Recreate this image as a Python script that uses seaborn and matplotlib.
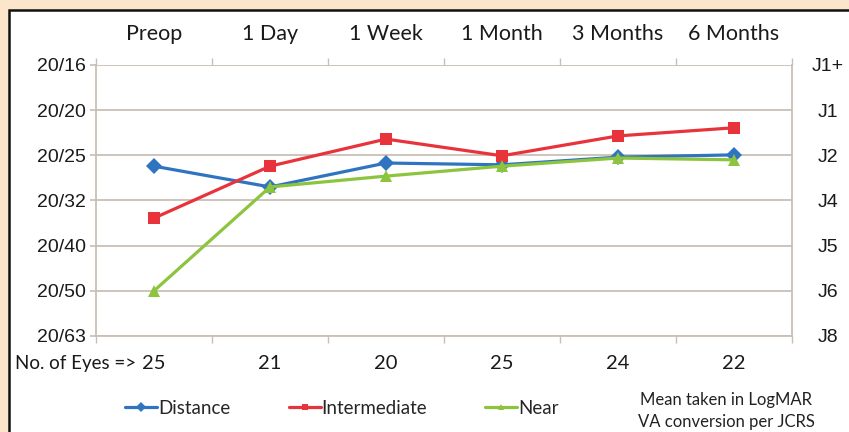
import numpy as np
import pandas as pd
import matplotlib
matplotlib.use("Agg")
import matplotlib.pyplot as plt
import seaborn as sns
from matplotlib.patches import Rectangle
from matplotlib.lines import Line2D
from matplotlib.ticker import FixedLocator

# ---------------- data ----------------
timepoints = ["Preop", "1 Day", "1 Week", "1 Month", "3 Months", "6 Months"]
eyes = [25, 21, 20, 25, 24, 22]
distance = [0.124, 0.170, 0.117, 0.121, 0.104, 0.099]
intermediate = [0.239, 0.124, 0.064, 0.101, 0.057, 0.039]
near = [0.400, 0.170, 0.146, 0.124, 0.106, 0.110]
series_names = ["Distance", "Intermediate", "Near"]
logmar_ticks = [-0.1, 0.0, 0.1, 0.2, 0.3, 0.4, 0.5]
snellen_labels = ["20/16", "20/20", "20/25", "20/32", "20/40", "20/50", "20/63"]
jaeger_labels = ["J1+", "J1", "J2", "J4", "J5", "J6", "J8"]
note_lines = ["Mean taken in LogMAR", "VA conversion per JCRS"]

colors = {"Distance": "#2F74C0", "Intermediate": "#E8333B", "Near": "#8CC43E"}
markers = {"Distance": "D", "Intermediate": "s", "Near": "^"}

rows = []
for name, vals in zip(series_names, [distance, intermediate, near]):
    for i, v in enumerate(vals):
        rows.append({"series": name, "pos": i, "logmar": v})
df = pd.DataFrame(rows)

# ---------------- figure ----------------
sns.set_theme(style="white")
plt.rcParams["font.family"] = ["Lato", "DejaVu Sans"]
W, H = 849, 432
fig = plt.figure(figsize=(W / 100, H / 100), dpi=100)
fig.patch.set_facecolor("#FBE5CB")

# white panel with black frame
fig.patches.append(Rectangle((9 / W, -0.1), 1.2, 1 - 10 / H + 0.1,
                             transform=fig.transFigure, facecolor="white",
                             edgecolor="#111111", linewidth=1.8, zorder=-5))

ax = fig.add_axes([96 / W, 1 - 336 / H, (792 - 96) / W, (336 - 65) / H])
ax.set_zorder(2)
ax.set_facecolor("white")

sns.lineplot(data=df, x="pos", y="logmar", hue="series", style="series",
             hue_order=series_names, style_order=series_names,
             palette=colors, markers=markers, dashes=False, ax=ax,
             legend=False, linewidth=2.3, markersize=8, markeredgewidth=0,
             zorder=3)

ax.set_xlim(-0.5, 5.5)
ax.set_ylim(0.5, -0.1)
ax.set_xlabel("")
ax.set_ylabel("")

grid_c = "#C9BFB5"
ax.set_yticks(logmar_ticks)
ax.set_yticklabels(snellen_labels, fontsize=14, family="Liberation Sans", color="#1A1A1A")
ax.yaxis.grid(True, color=grid_c, linewidth=1.3)
ax.xaxis.grid(False)
ax.tick_params(axis="y", length=4, color=grid_c, pad=3, left=True)

for s in ["left", "right", "bottom"]:
    ax.spines[s].set_visible(True)
    ax.spines[s].set_color(grid_c)
    ax.spines[s].set_linewidth(1.3)
ax.spines["top"].set_visible(False)

# bottom: eye counts + boundary ticks
ax.set_xticks(range(len(timepoints)))
ax.set_xticklabels([str(e) for e in eyes], fontsize=14.5, color="#1A1A1A")
ax.xaxis.set_minor_locator(FixedLocator(np.arange(-0.5, 6, 1.0)))
ax.tick_params(axis="x", which="major", length=0, pad=14, bottom=True)
ax.tick_params(axis="x", which="minor", length=5, color=grid_c, bottom=True, top=True)

# top: category labels
top = ax.secondary_xaxis("top")
top.set_xticks(range(len(timepoints)))
top.set_xticklabels(timepoints, fontsize=15.5, color="#1A1A1A")
top.tick_params(length=0, pad=15)
top.spines["top"].set_visible(False)

fig.text(136 / W, 1 - 364 / H, "No. of Eyes =>", ha="right", va="center",
         fontsize=13.5, color="#1A1A1A")

# right: Jaeger labels
right = ax.twinx()
right.set_ylim(ax.get_ylim())
right.set_yticks(logmar_ticks)
right.set_yticklabels(jaeger_labels, fontsize=14, family="Liberation Sans", color="#1A1A1A",
                      ha="center")
right.tick_params(axis="y", length=0, pad=26)
for s in right.spines.values():
    s.set_visible(False)
right.grid(False)

# legend
handles = [Line2D([0], [0], color=colors[n], marker=markers[n], markersize=5,
                  linewidth=2.3, markeredgewidth=0) for n in series_names]
fig.legend(handles, series_names, loc="center", bbox_to_anchor=(342 / W, 1 - 408 / H),
           ncol=3, frameon=False, fontsize=13.5, handlelength=1.7, handletextpad=0.05,
           columnspacing=3.1)

fig.text(726 / W, 1 - 400 / H, note_lines[0], ha="center", va="center", fontsize=12, color="#222222")
fig.text(726 / W, 1 - 422 / H, note_lines[1], ha="center", va="center", fontsize=12, color="#222222")

fig.savefig("out.png", dpi=100, facecolor=fig.get_facecolor())
